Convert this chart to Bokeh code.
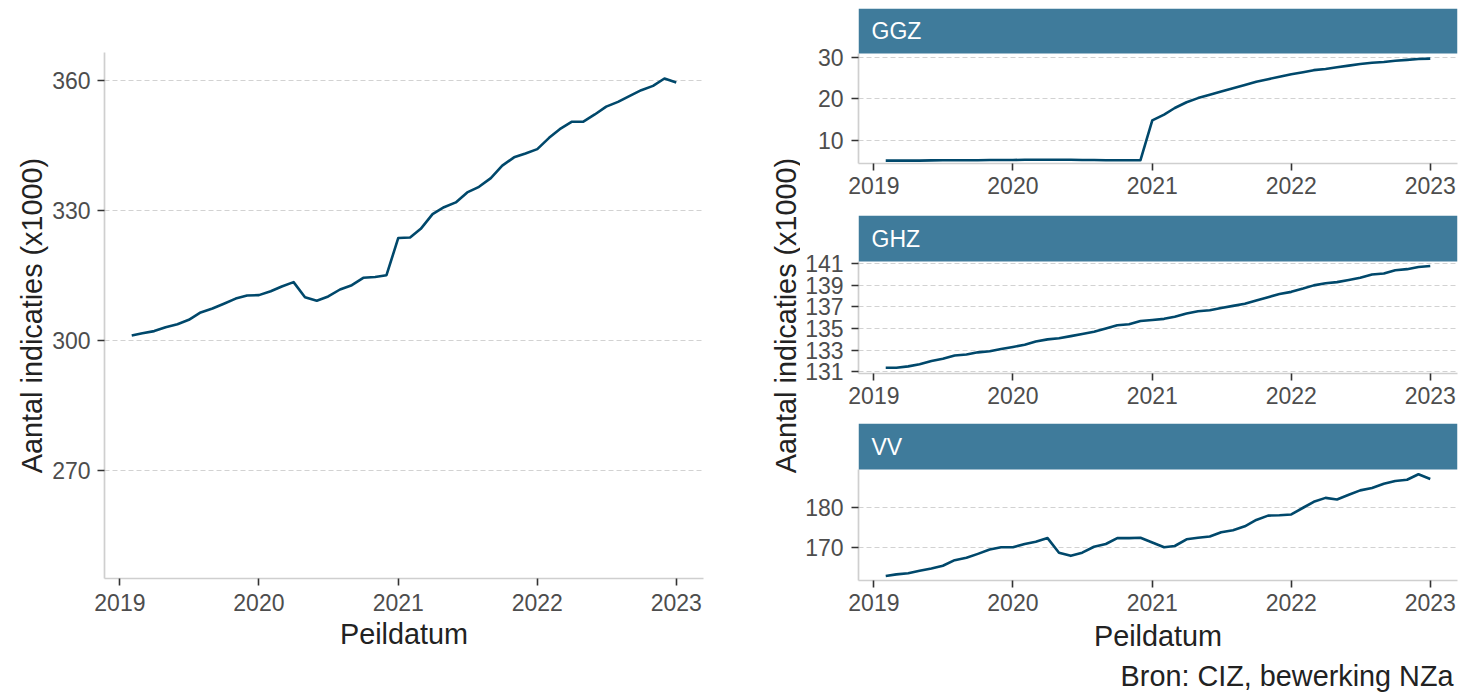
import numpy as np
import pandas as pd
from bokeh.plotting import figure
from bokeh.layouts import row, column
from bokeh.models import (ColumnDataSource, Range1d, FixedTicker, DatetimeTickFormatter,
                          BoxAnnotation, Label)
from bokeh.embed import file_html
from bokeh.resources import INLINE

# ---------------- data ----------------
peildatum = pd.date_range("2019-02-01", "2023-01-01", freq="MS")

totaal = [301.2, 301.7, 302.2, 303.1, 303.8, 304.8, 306.5, 307.4, 308.5, 309.7, 310.4, 310.5,
          311.4, 312.5, 313.5, 310.0, 309.2, 310.2, 311.8, 312.8, 314.5, 314.7, 315.1, 323.7,
          323.8, 325.8, 329.2, 330.8, 331.9, 334.2, 335.5, 337.5, 340.4, 342.3, 343.2, 344.2,
          346.8, 348.8, 350.5, 350.5, 352.2, 354.0, 355.1, 356.5, 357.8, 358.8, 360.5, 359.6]

ggz = [5.0, 5.0, 5.0, 5.0, 5.05, 5.1, 5.1, 5.1, 5.1, 5.15, 5.15, 5.15,
       5.2, 5.2, 5.2, 5.2, 5.2, 5.15, 5.15, 5.1, 5.1, 5.1, 5.1, 14.8,
       16.2, 17.8, 19.2, 20.2, 21.0, 21.8, 22.6, 23.4, 24.2, 24.8, 25.4, 26.0,
       26.5, 27.0, 27.3, 27.7, 28.1, 28.5, 28.8, 29.0, 29.3, 29.5, 29.7, 29.8]

ghz = [131.37, 131.37, 131.5, 131.7, 132.0, 132.2, 132.5, 132.6, 132.8, 132.9, 133.1, 133.3,
       133.5, 133.8, 134.0, 134.1, 134.3, 134.5, 134.7, 135.0, 135.3, 135.4, 135.7, 135.8,
       135.9, 136.1, 136.4, 136.6, 136.7, 136.9, 137.1, 137.3, 137.6, 137.9, 138.2, 138.4,
       138.7, 139.0, 139.2, 139.3, 139.5, 139.7, 140.0, 140.1, 140.4, 140.5, 140.7, 140.8]

vv = [162.7, 163.1, 163.4, 164.0, 164.6, 165.3, 166.7, 167.3, 168.3, 169.4, 170.0, 170.0,
      170.8, 171.4, 172.3, 168.6, 167.8, 168.6, 170.1, 170.8, 172.3, 172.3, 172.4, 171.2,
      170.0, 170.3, 172.0, 172.4, 172.7, 173.8, 174.3, 175.3, 176.9, 178.0, 178.1, 178.3,
      180.0, 181.5, 182.5, 182.1, 183.3, 184.4, 185.0, 186.1, 186.8, 187.1, 188.5, 187.3]

jaar_ticks = ["2019-01-01", "2020-01-01", "2021-01-01", "2022-01-01", "2023-01-01"]
totaal_ticks = [270, 300, 330, 360]
ggz_ticks = [10, 20, 30]
ghz_ticks = [131, 133, 135, 137, 139, 141]
vv_ticks = [170, 180]
totaal_limits = (245.1, 366.5)
ggz_limits = (4.3, 31.05)
ghz_limits = (130.84, 141.21)
vv_limits = (161.55, 189.7)

y_title = "Aantal indicaties (x1000)"
x_title = "Peildatum"
caption = "Bron: CIZ, bewerking NZa"

# ---------------- style ----------------
FONT = "Liberation Sans"
LINE = "#00486b"
STRIP = "#3f7b9b"
GRID = "#d2d2d2"
AXIS = "#cfcfcf"
TICK = "#333333"
TICKLAB = "#4d4d4d"
TITLE = "#222222"


def ms(t):
    return pd.Timestamp(t).value / 1e6


x0, x1 = ms(peildatum[0]), ms(peildatum[-1])
xpad = 0.05 * (x1 - x0)


def xr():
    return Range1d(x0 - xpad, x1 + xpad)


def style(p, yticks, x_std, y_std):
    p.outline_line_color = None
    p.background_fill_color = "white"
    p.border_fill_color = "white"
    p.xgrid.grid_line_color = None
    p.ygrid.grid_line_color = GRID
    p.ygrid.grid_line_dash = "5 3"
    p.ygrid.grid_line_width = 1.2
    p.yaxis.ticker = FixedTicker(ticks=yticks)
    p.xaxis.ticker = FixedTicker(ticks=[ms(t) for t in jaar_ticks])
    p.xaxis.formatter = DatetimeTickFormatter(years="%Y", months="%Y", days="%Y",
                                              hours="%Y", hourmin="%Y", minutes="%Y")
    for ax in (p.xaxis, p.yaxis):
        ax.axis_line_color = AXIS
        ax.axis_line_width = 1.7
        ax.major_tick_line_color = TICK
        ax.major_tick_line_width = 1.6
        ax.major_tick_out = 7
        ax.major_tick_in = 0
        ax.minor_tick_line_color = None
        ax.major_label_text_font = FONT
        ax.major_label_text_font_size = "23px"
        ax.major_label_text_color = TICKLAB
        ax.axis_label_text_font = FONT
        ax.axis_label_text_font_size = "28.8px"
        ax.axis_label_text_color = TITLE
        ax.axis_label_text_font_style = "normal"
    p.xaxis.major_label_standoff = x_std
    p.yaxis.major_label_standoff = y_std


# ---------------- left panel ----------------
LEFT_H = 658
left = figure(width=738, height=LEFT_H, x_axis_type="datetime", x_range=xr(),
              y_range=Range1d(*totaal_limits), output_backend="svg", toolbar_location=None,
              min_border_left=104, min_border_right=35, min_border_top=52, min_border_bottom=80,
              title=None)
style(left, totaal_ticks, 8, 7)
left.xaxis.axis_label = x_title
left.xaxis.axis_label_standoff = 4
left.yaxis.axis_label = y_title
left.yaxis.axis_label_standoff = 1
left.line(x="peildatum", y="waarde",
          source=ColumnDataSource(dict(peildatum=peildatum, waarde=totaal)),
          line_color=LINE, line_width=2.6, line_join="round")

# ---------------- shared y title for facets (frame aligned with left panel) ----------------
ylab = figure(width=62, height=LEFT_H, x_range=Range1d(0, 62), y_range=Range1d(0, 1),
              x_axis_location=None, y_axis_location=None, output_backend="svg",
              toolbar_location=None, min_border=0, title=None)
ylab.outline_line_color = None
ylab.grid.visible = False
ylab.add_layout(Label(x=47, y=0.5, text=y_title, angle=np.pi / 2,
                      text_align="center", text_baseline="middle", text_font=FONT,
                      text_font_size="28.8px", text_color=TITLE))


# ---------------- facets ----------------
def facet(name, vals, limits, ticks, top_px, panel_px, strip_px, bottom_px, with_title=False):
    lo, hi = limits
    top = hi + strip_px * (hi - lo) / panel_px
    p = figure(width=660, height=top_px + strip_px + panel_px + bottom_px,
               x_axis_type="datetime", x_range=xr(), y_range=Range1d(lo, top),
               output_backend="svg", toolbar_location=None, min_border_left=58,
               min_border_right=3, min_border_top=top_px, min_border_bottom=bottom_px,
               title=None)
    style(p, ticks, 6, 8)
    p.yaxis.bounds = (lo, hi)
    p.add_layout(BoxAnnotation(bottom=hi, fill_color=STRIP, fill_alpha=1.0, line_color=None))
    p.add_layout(Label(x=p.x_range.start, y=(hi + top) / 2, x_offset=13, text=name,
                       text_align="left", text_baseline="middle", text_font=FONT,
                       text_font_size="23px", text_color="white"))
    p.line(x="peildatum", y="waarde",
           source=ColumnDataSource(dict(peildatum=peildatum, waarde=vals)),
           line_color=LINE, line_width=2.6, line_join="round")
    if with_title:
        p.xaxis.axis_label = x_title
        p.xaxis.axis_label_standoff = 6
    return p


f_ggz = facet("GGZ", ggz, ggz_limits, ggz_ticks, 8, 110, 45, 52)
f_ghz = facet("GHZ", ghz, ghz_limits, ghz_ticks, 0, 112, 46, 50)
f_vv = facet("VV", vv, vv_limits, vv_ticks, 0, 111, 46, 80, with_title=True)

# ---------------- caption (frame aligned with facet frames) ----------------
CAP_H = 34
cap = figure(width=660, height=CAP_H, x_range=Range1d(0, 1), y_range=Range1d(0, CAP_H),
             x_axis_location=None, y_axis_location=None, output_backend="svg",
             toolbar_location=None, min_border=0, title=None)
cap.outline_line_color = None
cap.grid.visible = False
cap.add_layout(Label(x=1, y=3, x_offset=-4, text=caption, text_align="right",
                     text_baseline="bottom", text_font=FONT, text_font_size="28.8px",
                     text_color=TITLE))

layout = row(left, ylab, column(f_ggz, f_ghz, f_vv, cap))

open("out.html", "w").write(file_html(layout, INLINE))
